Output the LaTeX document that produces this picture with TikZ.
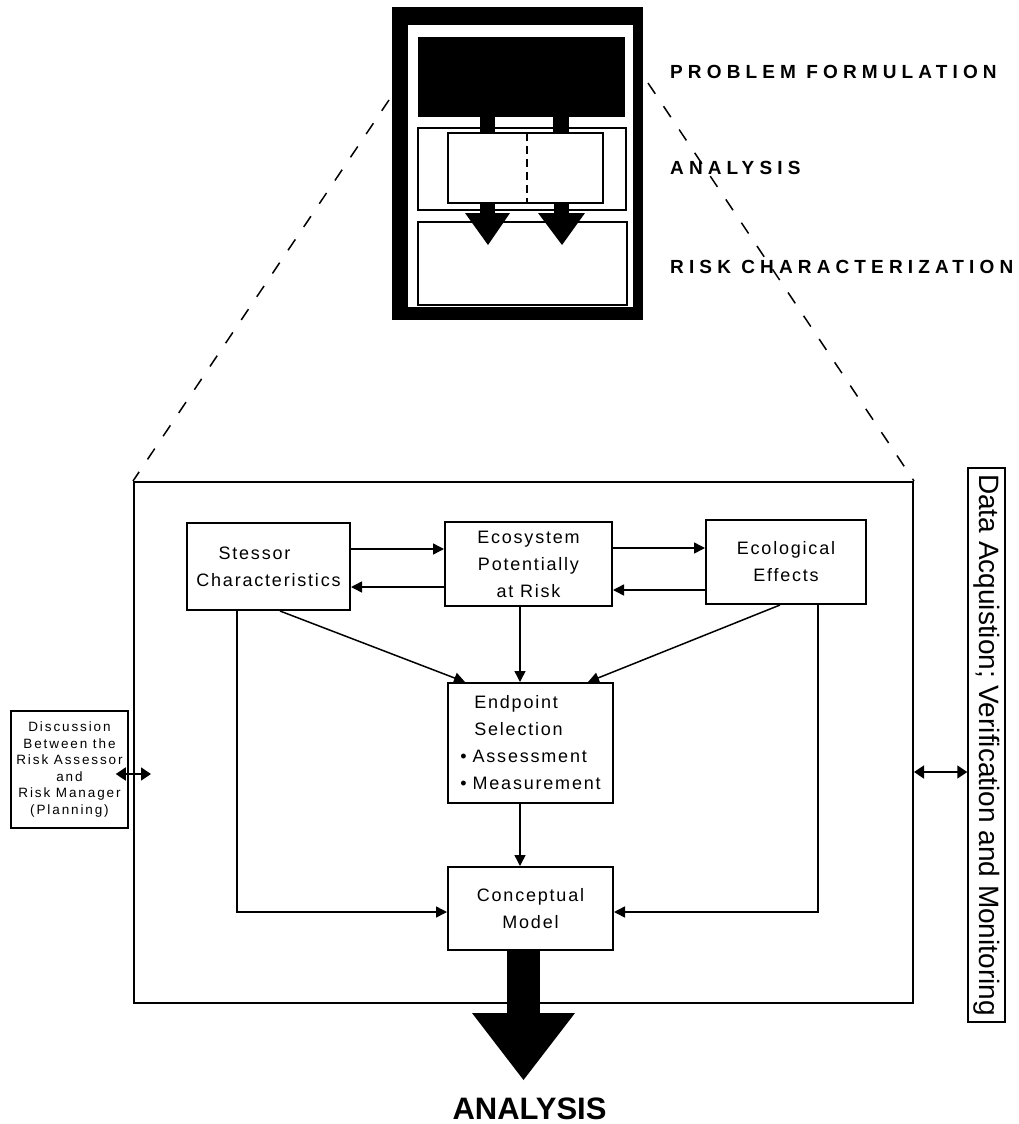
\documentclass[tikz,border=0pt]{standalone}
\usepackage{fontspec}
\setmainfont{Liberation Sans}
\newfontfamily\boxfont[LetterSpace=10]{Liberation Sans}
\newfontfamily\discfont[LetterSpace=14]{Liberation Sans}
\newfontfamily\titlefont[LetterSpace=27]{Liberation Sans}
\newfontfamily\plainfont{Liberation Sans}
\usetikzlibrary{arrows.meta,calc}
\begin{document}
\begin{tikzpicture}[x=1pt,y=-1pt,
  box/.style={draw, line width=2pt, inner sep=0pt, align=center,
    font=\boxfont\fontsize{18}{27}\selectfont},
  conn/.style={line width=1.5pt},
  arr/.style={conn, -{Triangle[length=11pt,width=11pt]}},
  darr/.style={conn, {Triangle[length=10pt,width=13pt]}-{Triangle[length=10pt,width=13pt]}},
  zoomline/.style={line width=1.5pt, dash pattern=on 13pt off 15pt},
  title/.style={anchor=west, inner sep=0pt,
    font=\titlefont\bfseries\fontsize{19}{22}\selectfont},
]
\useasboundingbox (0,0) rectangle (1019,1124);

% ---- thumbnail of the whole process ----
\fill[black] (392,7) rectangle (643,320);
\fill[white] (408,25) rectangle (633,307);
\fill[black] (418,37) rectangle (625,117);
\draw[line width=1.5pt] (418,128) rectangle (626,210);
\draw[line width=1.5pt, fill=white] (448,133) rectangle (603,203);
\draw[line width=1.5pt, dash pattern=on 8pt off 5pt] (527,133) -- (527,203);
\fill (480,117) rectangle (495,134);
\fill (553,117) rectangle (569,134);
\draw[line width=1.5pt] (418,222) rectangle (627,305);
\fill (480,203) rectangle (495,214);
\fill (465,213) -- (510,213) -- (488,245) -- cycle;
\fill (554,203) rectangle (569,214);
\fill (538,213) -- (585,213) -- (562,245) -- cycle;

\node[title] (tpf) at (670,72) {PROBLEM FORMULATION};
\node[title] (tan) at (670,168) {ANALYSIS};
\node[title] (trc) at (670,267) {RISK CHARACTERIZATION};

% ---- enlarged frame ----
\node[draw, line width=2pt, inner sep=0pt, minimum width=779pt, minimum height=521pt] (frame) at (523.5,742.5) {};
\coordinate (thl) at (389,100);
\coordinate (thr) at (648,83);
\draw[zoomline] (thl) -- (frame.north west);
\draw[zoomline] (thr) -- (frame.north east);

% ---- boxes ----
\node[box, minimum width=163pt, minimum height=87pt] (stressor) at (268.5,566.5) {Stessor\hspace*{28pt}\\Characteristics};
\node[box, minimum width=167pt, minimum height=84pt] (ecosys) at (528.5,564) {Ecosystem\\Potentially\\at Risk};
\node[box, minimum width=160pt, minimum height=84pt] (ecol) at (786,562) {Ecological\\Effects};
\node[box, minimum width=165pt, minimum height=120pt, align=left] (endpoint) at (530.5,743)
  {\hspace*{14pt}Endpoint\\\hspace*{14pt}Selection\\\textbullet\hspace{6pt}Assessment\\\textbullet\hspace{6pt}Measurement};
\node[box, minimum width=165pt, minimum height=83pt] (concept) at (530.5,908.5) {Conceptual\\Model};

\node[draw, line width=1.5pt, inner sep=0pt, minimum width=117pt, minimum height=117pt, align=center,
  font=\discfont\fontsize{13.5}{16.5}\selectfont] (disc) at (69.5,769.5)
  {Discussion\\Between the\\Risk Assessor\\and\\Risk Manager\\(Planning)};

\node[draw, line width=1.5pt, inner sep=0pt, minimum width=554pt, minimum height=37pt, rotate=-90,
  font=\plainfont\fontsize{28}{30}\selectfont] (data) at (986.5,745)
  {Data Acquistion; Verification and Monitoring};

% ---- connectors ----
\draw[arr] (stressor.east |- 0,549) -- (ecosys.west |- 0,549);
\draw[arr] (ecosys.west |- 0,587) -- (stressor.east |- 0,587);
\draw[arr] (ecosys.east |- 0,548) -- (ecol.west |- 0,548);
\draw[arr] (ecol.west |- 0,590) -- (ecosys.east |- 0,590);
\draw[arr] (stressor.south -| 237,0) |- (concept.west |- 0,912);
\draw[arr] (ecol.south -| 818,0) |- (concept.east |- 0,912);
\draw[arr] (stressor.south -| 280,0) -- (endpoint.north -| 465,0);
\draw[arr] (ecosys.south -| 520,0) -- (endpoint.north -| 520,0);
\draw[arr] (ecol.south -| 780,0) -- (endpoint.north -| 588,0);
\draw[arr] (endpoint.south -| 520,0) -- (concept.north -| 520,0);
\draw[darr] ($(disc.east |- 0,774)+(-13,0)$) -- ($(frame.west |- 0,774)+(18,0)$);
\draw[darr] (frame.east |- 0,772) -- (data.south |- 0,772);

% ---- big output arrow ----
\fill (507,950) rectangle (540,1014);
\fill (472,1013) -- (575,1013) -- (523.5,1080) -- cycle;
\node[inner sep=0pt, font=\plainfont\bfseries\fontsize{31}{34}\selectfont] (anl) at (529.5,1108.5) {ANALYSIS};
\end{tikzpicture}
\end{document}
